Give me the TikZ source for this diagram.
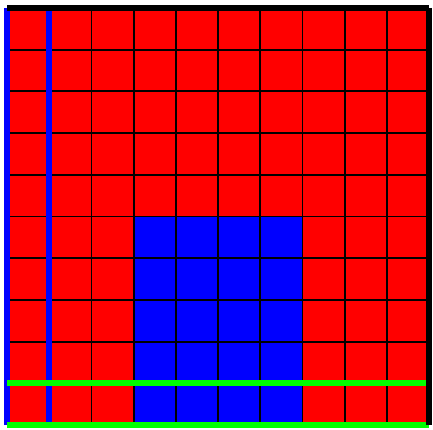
\documentclass[tikz,border=0pt]{standalone}
\begin{document}
\begin{tikzpicture}[x=1pt,y=1pt,
  gridline/.style={black,line width=1.8pt},
  blueline/.style={blue,line width=5.5pt},
  greenline/.style={green,line width=6pt},
  blackline/.style={black,line width=5.5pt}]
\useasboundingbox (0,0) rectangle (433,429);
\begin{scope}[xshift=7pt,yshift=4pt,x=42.2pt,y=41.7pt]
  \fill[red] (0,0) rectangle (10,10);
  \fill[blue] (3,0) rectangle (7,5);
  \foreach \i in {0,...,10} {
    \draw[gridline] (\i,0) -- (\i,10);
    \draw[gridline] (0,\i) -- (10,\i);
  }
  \coordinate (bl) at (0,0);
  \coordinate (tl) at (0,10);
  \coordinate (b1) at (1,0);
  \coordinate (t1) at (1,10);
  \coordinate (br) at (10,0);
  \coordinate (tr) at (10,10);
  \coordinate (l1) at (0,1);
  \coordinate (r1) at (10,1);
  \draw[blueline] (bl) -- (tl);
  \draw[blueline] (b1) -- (t1);
  \draw[greenline] (bl) -- (br);
  \draw[greenline] (l1) -- (r1);
  \draw[blackline] (tl) -- (tr);
  \draw[blackline] (tr) -- (br);
\end{scope}
\end{tikzpicture}
\end{document}
